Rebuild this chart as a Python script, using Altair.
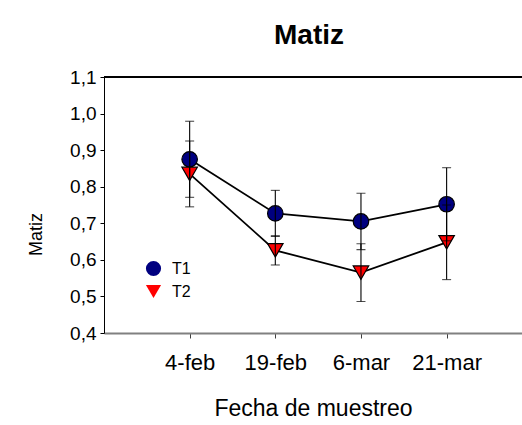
import json
import altair as alt
import pandas as pd

# Sampling dates and the two treatments
fechas = ["4-feb", "19-feb", "6-mar", "21-mar"]
series = ["T1", "T2"]

# Mean hue value and error (± half-width) per date
t1 = [0.875, 0.727, 0.705, 0.752]
t1_err = [0.104, 0.063, 0.077, 0.100]
t2 = [0.835, 0.626, 0.565, 0.648]
t2_err = [0.090, 0.040, 0.079, 0.102]

y_ticks = [0.4, 0.5, 0.6, 0.7, 0.8, 0.9, 1.0, 1.1]

FONT = "Liberation Sans"

rows = []
for serie, vals, errs in [("T1", t1, t1_err), ("T2", t2, t2_err)]:
    for i, fecha in enumerate(fechas):
        rows.append({"pos": i, "fecha": fecha, "serie": serie,
                     "valor": vals[i], "err": errs[i]})
df = pd.DataFrame(rows)
df["lo"] = df["valor"] - df["err"]
df["hi"] = df["valor"] + df["err"]

label_expr = json.dumps(fechas) + "[datum.value]"

x_scale = alt.Scale(domain=[-1, 3.88], nice=False, zero=False)
x_axis = alt.Axis(
    values=list(range(len(fechas))),
    labelExpr=label_expr,
    title="Fecha de muestreo",
    grid=False,
    labelOverlap=False,
    domainColor="#808080",
    domainWidth=2,
    tickColor="#404040",
    tickSize=5,
    labelFontSize=22,
    labelPadding=14,
    titleFontSize=23,
    titleFontWeight="normal",
    titlePadding=24,
)

y_scale = alt.Scale(domain=[0.4, 1.1], nice=False, zero=False)
y_axis = alt.Axis(
    values=y_ticks,
    labelExpr="replace(format(datum.value, '.1f'), '.', ',')",
    title="Matiz",
    grid=False,
    labelOverlap=False,
    domainColor="black",
    tickColor="black",
    tickSize=4,
    labelFontSize=19,
    labelPadding=4,
    titleFontSize=18,
    titleFontWeight="normal",
    titleAngle=-90,
    titleX=-59,
    titleY=157,
    titleAlign="center",
    titleBaseline="bottom",
)

x_enc = alt.X("pos:Q", scale=x_scale, axis=x_axis)

base = alt.Chart(df)

# thin frame line along the top of the plot area
frame_top = base.mark_rule(color="black", strokeWidth=1).encode(
    y=alt.value(0)
)

lines = base.mark_line(color="black", strokeWidth=1.8).encode(
    x=x_enc,
    y=alt.Y("valor:Q", scale=y_scale, axis=y_axis),
    detail="serie:N",
    order="pos:Q",
)

points = base.mark_point(filled=True, opacity=1, stroke="black",
                         strokeWidth=1.2, size=240).encode(
    x=x_enc,
    y=alt.Y("valor:Q", scale=y_scale, axis=y_axis),
    shape=alt.Shape(
        "serie:N",
        scale=alt.Scale(domain=series, range=["circle", "triangle-down"]),
        legend=alt.Legend(
            title=None,
            orient="none",
            legendX=41,
            legendY=183,
            symbolSize=230,
            symbolStrokeColor="black",
            symbolStrokeWidth=1.2,
            labelFontSize=16,
            labelOffset=10,
            rowPadding=3,
            padding=0,
        ),
    ),
    fill=alt.Fill(
        "serie:N",
        scale=alt.Scale(domain=series, range=["#000080", "#ff0000"]),
        legend=alt.Legend(title=None),
    ),
)

err_rules = base.mark_rule(color="black", strokeWidth=1.1).encode(
    x=x_enc,
    y=alt.Y("lo:Q", scale=y_scale, axis=y_axis),
    y2="hi:Q",
)

caps_lo = base.mark_tick(color="black", thickness=1.1, size=9, orient="horizontal").encode(
    x=x_enc,
    y=alt.Y("lo:Q", scale=y_scale, axis=y_axis),
)

caps_hi = base.mark_tick(color="black", thickness=1.1, size=9, orient="horizontal").encode(
    x=x_enc,
    y=alt.Y("hi:Q", scale=y_scale, axis=y_axis),
)

chart = (
    alt.layer(lines, points, err_rules, caps_lo, caps_hi, frame_top)
    .properties(
        width=418,
        height=256,
        autosize=alt.AutoSizeParams(type="none"),
        padding={"left": 104, "top": 77, "right": 0, "bottom": 92},
        title=alt.Title(
            "Matiz",
            fontSize=28,
            fontWeight="bold",
            font=FONT,
            anchor="middle",
            baseline="bottom",
            offset=-10,
            dx=-4,
        ),
    )
    .configure_view(stroke=None)
    .configure_axis(grid=False, labelFont=FONT, titleFont=FONT,
                    labelColor="black", titleColor="black")
    .configure_legend(labelFont=FONT, labelColor="black")
    .configure(background="white")
)

chart.save("out.html", embed_options={"renderer": "svg", "actions": False})
